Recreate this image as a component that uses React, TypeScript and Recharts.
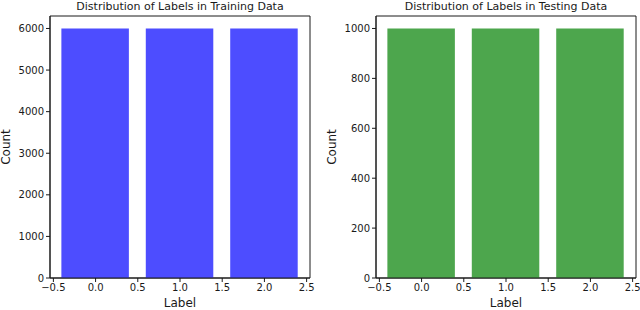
import { BarChart, Bar, XAxis, YAxis, ReferenceArea, Label } from "recharts"

const labels = [0, 1, 2]
const trainCounts = [6000, 6000, 6000]
const testCounts = [1000, 1000, 1000]
const xTicks = [-0.5, 0, 0.5, 1, 1.5, 2, 2.5]
const trainTicks = [0, 1000, 2000, 3000, 4000, 5000, 6000]
const testTicks = [0, 200, 400, 600, 800, 1000]

const X_DOMAIN: [number, number] = [-0.54, 2.54]
const INK = "#1a1a1a"

const fmtX = (v: number) => v.toFixed(1).replace("-", "\u2212")

interface PanelProps {
  title: string
  counts: number[]
  ticks: number[]
  yMax: number
  color: string
  left: number
  axisWidth: number
  marginRight: number
}

function Panel({ title, counts, ticks, yMax, color, left, axisWidth, marginRight }: PanelProps) {
  const data = labels.map((label, i) => ({ label, count: counts[i] }))
  const plotLeft = axisWidth
  const plotWidth = 320 - axisWidth - marginRight

  return (
    <div style={{ position: "absolute", left, top: 0, width: 320, height: 310 }}>
      <div
        style={{
          position: "absolute",
          left: plotLeft,
          width: plotWidth,
          top: 0,
          textAlign: "center",
          fontSize: 11,
          lineHeight: "14px",
          color: INK,
        }}
      >
        {title}
      </div>
      <BarChart width={320} height={310} data={data} margin={{ top: 16, right: marginRight, bottom: 0, left: 0 }}>
        <XAxis
          type="number"
          dataKey="label"
          domain={X_DOMAIN}
          ticks={xTicks}
          allowDataOverflow
          tickFormatter={fmtX}
          height={32}
          tickSize={4}
          tick={{ fill: INK, fontSize: 10 }}
          tickLine={{ stroke: INK }}
          axisLine={{ stroke: INK }}
        >
          <Label
            content={({ viewBox }: any) => (
              <text
                x={viewBox.x + viewBox.width / 2}
                y={viewBox.y + 29}
                textAnchor="middle"
                fontSize={12}
                fill={INK}
              >
                Label
              </text>
            )}
          />
        </XAxis>
        <YAxis
          type="number"
          domain={[0, yMax]}
          ticks={ticks}
          allowDataOverflow
          width={axisWidth}
          tickSize={4}
          tick={{ fill: INK, fontSize: 10 }}
          tickLine={{ stroke: INK }}
          axisLine={{ stroke: INK }}
        >
          <Label
            content={({ viewBox }: any) => {
              const cx = axisWidth === 50 ? 6 : 12
              const cy = viewBox.y + viewBox.height / 2
              return (
                <text
                  x={cx}
                  y={cy}
                  transform={`rotate(-90 ${cx} ${cy})`}
                  textAnchor="middle"
                  dominantBaseline="central"
                  fontSize={12}
                  fill={INK}
                >
                  Count
                </text>
              )
            }}
          />
        </YAxis>
        <Bar dataKey="count" fill={color} barSize={67.5} isAnimationActive={false} />
        <ReferenceArea x1={X_DOMAIN[0]} x2={X_DOMAIN[1]} y1={0} y2={yMax} fill="none" stroke={INK} strokeWidth={1} />
      </BarChart>
    </div>
  )
}

export default function App() {
  return (
    <div
      style={{
        position: "absolute",
        left: 0,
        top: 0,
        width: 640,
        height: 310,
        background: "#fff",
        fontFamily: "'DejaVu Sans', sans-serif",
      }}
    >
      <Panel
        title="Distribution of Labels in Training Data"
        counts={trainCounts}
        ticks={trainTicks}
        yMax={6300}
        color="#4d4dff"
        left={0}
        axisWidth={50}
        marginRight={10}
      />
      <Panel
        title="Distribution of Labels in Testing Data"
        counts={testCounts}
        ticks={testTicks}
        yMax={1050}
        color="#4da64d"
        left={320}
        axisWidth={56}
        marginRight={4}
      />
    </div>
  )
}
